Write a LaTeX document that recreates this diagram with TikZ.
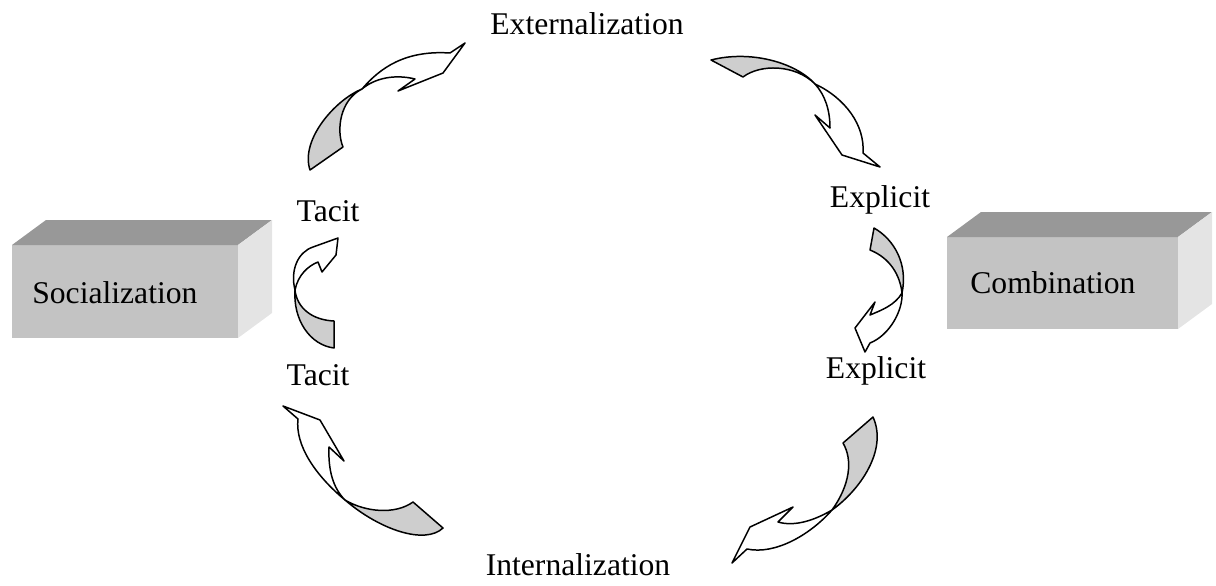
\documentclass[tikz,border=0pt]{standalone}
\usepackage{fontspec}
\setmainfont{Liberation Serif}
\usetikzlibrary{positioning}
\definecolor{frontface}{RGB}{195,195,195}
\definecolor{topface}{RGB}{152,152,152}
\definecolor{sideface}{RGB}{228,228,228}
\definecolor{bandgray}{RGB}{206,206,206}
\tikzset{
	word/.style= {
		font=\fontsize{18}{21}\selectfont,
		inner sep=0,
		anchor=base
	},
	mode/.style= {
		word,
		anchor=base west
	},
	band/.style= {
		draw,
		line width=0.85pt,
		line join=round
	},
	backside/.style={band, fill=bandgray},
	frontside/.style={band, fill=white},
}
\newcommand{\cubebox}[3]{
\fill[frontface] (#1) rectangle ++(#2,#3);
\fill[topface] (#1) -- ++(34,-25) -- ++(#2,0) -- ++(-34,25) -- cycle;
\fill[sideface] (#1) ++(#2,0) -- ++(34,-25) -- ++(0,#3) -- ++(-34,25) -- cycle;
}

\begin{document}
\begin{tikzpicture}[x=0.02cm, y=-0.02cm]
		\useasboundingbox (0,0) rectangle (1216,585);

		\coordinate (socbox) at (12,245);
		\coordinate (combox) at (947,237);
		\cubebox{socbox}{226}{93}
		\cubebox{combox}{231}{92}

		\node (soc) [mode] at (32,303) {Socialization};
		\node (com) [mode] at (970,293) {Combination};
		\node (ext) [word] at (587,34) {Externalization};
		\node (int) [word] at (578,575) {Internalization};
		\node (tacitup) [word] at (328,221) {Tacit};
		\node (tacitdown) [word] at (318,385) {Tacit};
		\node (explup) [word] at (880,207) {Explicit};
		\node (expldown) [word] at (876,378) {Explicit};

		\draw[backside] (310,170) -- (343,147) .. controls (336,130) and (340,100) .. (362,89) .. controls (335,100) and (300,140) .. (310,170) -- cycle;
		\draw[frontside] (362,89) .. controls (380,68) and (405,50) .. (450,53) -- (465,43) -- (443,73) -- (398,91) -- (415,79) .. controls (395,74) and (375,78) .. (362,89) -- cycle;

		\draw[backside] (711,60) -- (743,77) .. controls (760,64) and (795,64) .. (815,84) .. controls (795,62) and (750,50) .. (711,60) -- cycle;
		\draw[frontside] (815,84) .. controls (845,98) and (865,125) .. (863,153) -- (880,167) -- (842,155) -- (815,115) -- (830,128) .. controls (830,110) and (825,95) .. (815,84) -- cycle;

		\draw[backside] (874,228) -- (870,250) .. controls (890,258) and (900,275) .. (902,293) .. controls (908,265) and (895,240) .. (874,228) -- cycle;
		\draw[frontside] (902,293) .. controls (895,305) and (882,310) .. (870,315) -- (875,302) -- (855,328) -- (865,352) -- (870,343) .. controls (890,335) and (903,310) .. (902,293) -- cycle;

		\draw[backside] (873,417) -- (843,443) .. controls (853,460) and (850,485) .. (832,510) .. controls (860,490) and (888,450) .. (873,417) -- cycle;
		\draw[frontside] (832,510) .. controls (815,520) and (795,527) .. (778,522) -- (793,507) -- (750,527) -- (732,563) -- (747,549) .. controls (775,555) and (810,535) .. (832,510) -- cycle;

		\draw[backside] (345,500) .. controls (365,512) and (395,515) .. (413,502) -- (443,528) .. controls (425,545) and (380,530) .. (345,500) -- cycle;
		\draw[frontside] (345,500) .. controls (315,475) and (295,445) .. (298,419) -- (283,406) -- (320,420) -- (344,461) -- (329,447) .. controls (328,470) and (333,488) .. (345,500) -- cycle;

		\draw[backside] (334,321) -- (334,348) .. controls (310,345) and (293,320) .. (295,290) .. controls (297,308) and (312,320) .. (334,321) -- cycle;
		\draw[frontside] (295,290) .. controls (290,270) and (298,252) .. (313,247) -- (338,238) -- (336,255) -- (322,272) -- (318,262) .. controls (308,266) and (298,275) .. (295,290) -- cycle;
	\end{tikzpicture}
\end{document}
